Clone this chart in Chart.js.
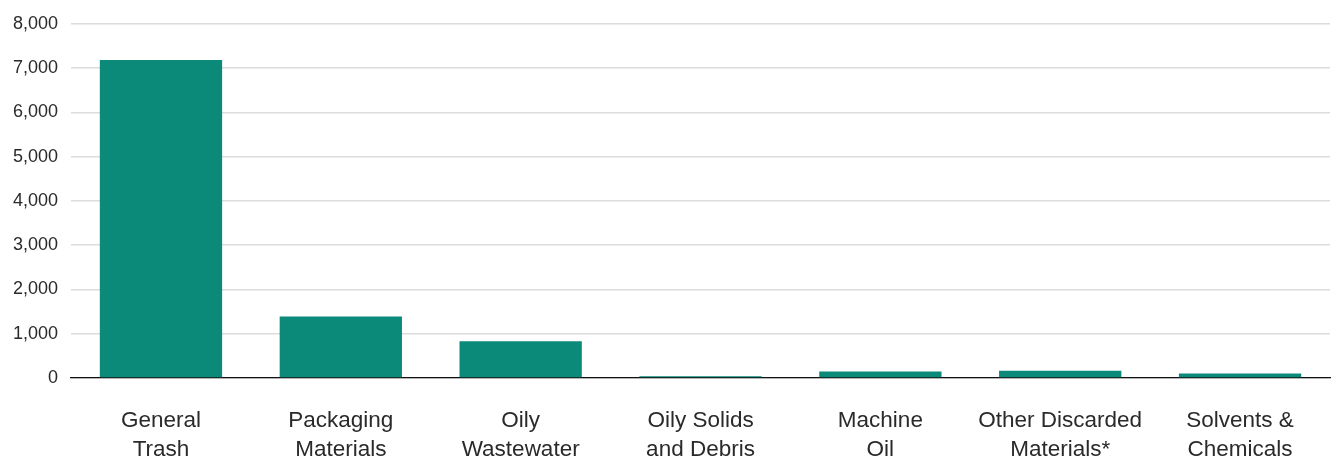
<!DOCTYPE html>
<html>
<head>
<meta charset="utf-8">
<script src="https://cdn.jsdelivr.net/npm/chart.js@4.4.1/dist/chart.umd.min.js"></script>
<style>
  html, body { margin: 0; padding: 0; background: #fff; }
  #wrap { width: 1337px; height: 460px; }
</style>
</head>
<body>
<div id="wrap"><canvas id="wasteChart"></canvas></div>
<script>
// waste streams and annual amounts
const categories = [
  ['General', 'Trash'],
  ['Packaging', 'Materials'],
  ['Oily', 'Wastewater'],
  ['Oily Solids', 'and Debris'],
  ['Machine', 'Oil'],
  ['Other Discarded', 'Materials*'],
  ['Solvents &', 'Chemicals']
];
const amounts = [7180, 1390, 830, 40, 145, 165, 100];
const yTicks = [0, 1000, 2000, 3000, 4000, 5000, 6000, 7000, 8000];

const fontFamily = 'Liberation Sans, Arial, sans-serif';

const ctx = document.getElementById('wasteChart').getContext('2d');
new Chart(ctx, {
  type: 'bar',
  data: {
    labels: categories,
    datasets: [{
      data: amounts,
      backgroundColor: '#0b8a7a',
      borderWidth: 0,
      categoryPercentage: 1,
      barPercentage: 0.68
    }]
  },
  options: {
    responsive: true,
    maintainAspectRatio: false,
    animation: false,
    layout: { padding: { top: 14, right: 7, bottom: 0, left: 0 } },
    plugins: {
      legend: { display: false },
      tooltip: { enabled: false }
    },
    scales: {
      x: {
        afterFit: (scale) => { scale.height = 82; },
        grid: { display: false, drawTicks: false },
        border: { display: true, color: '#111', width: 1.2 },
        ticks: {
          color: '#2a2a2a',
          font: { family: fontFamily, size: 22.5, lineHeight: 1.29 },
          padding: 28,
          maxRotation: 0,
          autoSkip: false
        }
      },
      y: {
        min: 0,
        max: 8000,
        afterBuildTicks: (axis) => {
          axis.ticks = yTicks.map(v => ({ value: v }));
        },
        grid: { color: '#dcdcdc', lineWidth: 1.5, drawTicks: false },
        border: { display: false },
        ticks: {
          color: '#2a2a2a',
          font: { family: fontFamily, size: 18 },
          padding: 13,
          callback: (v) => v.toLocaleString('en-US')
        }
      }
    }
  }
});
</script>
</body>
</html>
